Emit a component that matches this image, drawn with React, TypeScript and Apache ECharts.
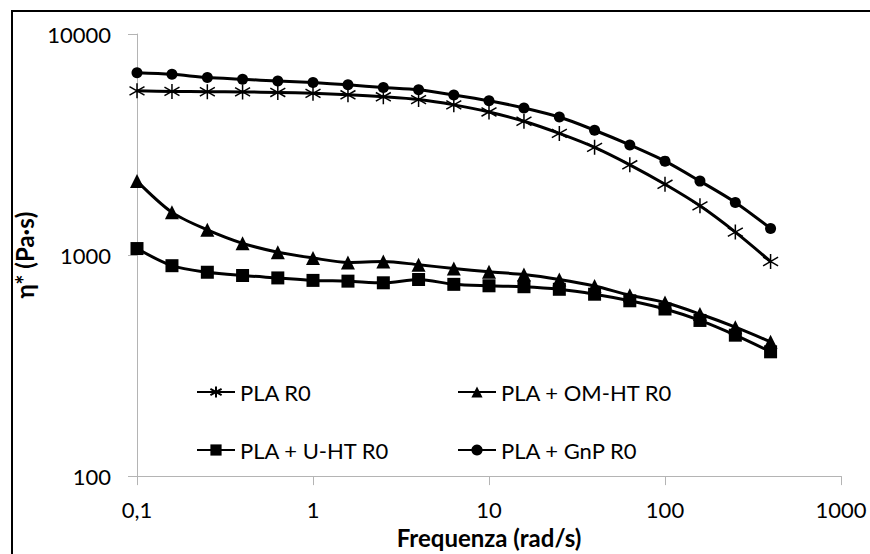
import React, { useEffect, useRef } from "react";
import * as echarts from "echarts";

// Angular frequency (rad/s)
const frequencies = [0.1, 0.158, 0.251, 0.398, 0.631, 1, 1.58, 2.51, 3.98, 6.31, 10, 15.8, 25.1, 39.8, 63.1, 100, 158, 251, 398];

// Complex viscosity η* (Pa·s)
const plaR0 = [5530, 5500, 5480, 5470, 5440, 5390, 5310, 5200, 5050, 4780, 4440, 4030, 3550, 3070, 2560, 2090, 1670, 1270, 935];
const plaOmHtR0 = [2160, 1560, 1300, 1130, 1030, 970, 926, 935, 904, 869, 840, 816, 775, 724, 658, 610, 541, 472, 405];
const plaUHtR0 = [1070, 895, 836, 808, 788, 768, 762, 749, 775, 737, 726, 719, 700, 665, 621, 570, 506, 434, 365];
const plaGnpR0 = [6680, 6570, 6350, 6240, 6130, 6030, 5890, 5730, 5590, 5300, 4990, 4630, 4210, 3670, 3150, 2660, 2160, 1730, 1320];

const seriesNames = ["PLA R0", "PLA + OM-HT R0", "PLA + U-HT R0", "PLA + GnP R0"];
const xTitle = "Frequenza (rad/s)";
const yTitle = "η* (Pa·s)";

const ASTERISK = "path://M7,0L7,14M0,3L14,11M0,11L14,3";

export default function App() {
  const ref = useRef<HTMLDivElement>(null);

  useEffect(() => {
    if (!ref.current) return;
    const chart = echarts.init(ref.current, null, { renderer: "svg" });
    const font = "Lato";
    const axisGray = "#b4b4b4";

    const mk = (name: string, values: number[], symbol: string, size: number, extraItem: any = {}) => ({
      name,
      type: "line",
      data: frequencies.map((f, i) => [f, values[i]]),
      symbol,
      symbolSize: size,
      smooth: 0.3,
      lineStyle: { color: "#000", width: 3 },
      itemStyle: { color: "#000", ...extraItem },
      emphasis: { disabled: true },
    });

    const legendPos = [
      { left: 196, top: 381 },
      { left: 457, top: 381 },
      { left: 196, top: 439 },
      { left: 457, top: 439 },
    ];

    chart.setOption({
      animation: false,
      backgroundColor: "#fff",
      grid: { left: 137, right: 29, top: 34, bottom: 70 },
      xAxis: {
        type: "log",
        logBase: 10,
        min: 0.1,
        max: 1000,
        axisLine: { show: true, lineStyle: { color: axisGray, width: 1 } },
        axisTick: { show: true, length: 9, lineStyle: { color: axisGray } },
        minorTick: { show: false },
        splitLine: { show: false },
        axisLabel: {
          fontFamily: font,
          fontSize: 22,
          color: "#000",
          margin: 22,
          formatter: (v: number) => (v < 1 ? v.toFixed(1).replace(".", ",") : String(Math.round(v))),
        },
        name: xTitle,
        nameLocation: "middle",
        nameGap: 34,
        nameTextStyle: { fontFamily: font, fontSize: 24, fontWeight: "bold", color: "#000" },
      },
      yAxis: {
        type: "log",
        logBase: 10,
        min: 100,
        max: 10000,
        axisLine: { show: true, lineStyle: { color: axisGray, width: 1 } },
        axisTick: { show: true, length: 9, lineStyle: { color: axisGray } },
        minorTick: { show: false },
        splitLine: { show: false },
        axisLabel: {
          fontFamily: font,
          fontSize: 22,
          color: "#000",
          margin: 26,
          formatter: (v: number) => String(Math.round(v)),
        },
        name: yTitle,
        nameLocation: "middle",
        nameRotate: 90,
        nameGap: 89,
        nameTextStyle: { fontFamily: font, fontSize: 24, fontWeight: "bold", color: "#000" },
      },
      legend: seriesNames.map((n, i) => ({
        data: [n],
        left: legendPos[i].left,
        top: legendPos[i].top,
        padding: 0,
        itemWidth: 38,
        itemHeight: 14,
        selectedMode: false,
        textStyle: { fontFamily: font, fontSize: 22, color: "#000" },
      })),
      graphic: [
        {
          type: "rect",
          shape: { x: 12, y: 11, width: 900, height: 600 },
          style: { fill: "none", stroke: "#000", lineWidth: 2 },
          silent: true,
        },
      ],
      series: [
        mk(seriesNames[0], plaR0, ASTERISK, 15, { borderColor: "#000", borderWidth: 1.5 }),
        mk(seriesNames[1], plaOmHtR0, "triangle", 14),
        mk(seriesNames[2], plaUHtR0, "rect", 13),
        mk(seriesNames[3], plaGnpR0, "circle", 11),
      ],
    });

    return () => chart.dispose();
  }, []);

  return (
    <div
      ref={ref}
      style={{ position: "absolute", left: 0, top: 0, width: 870, height: 554, background: "#fff" }}
    />
  );
}
